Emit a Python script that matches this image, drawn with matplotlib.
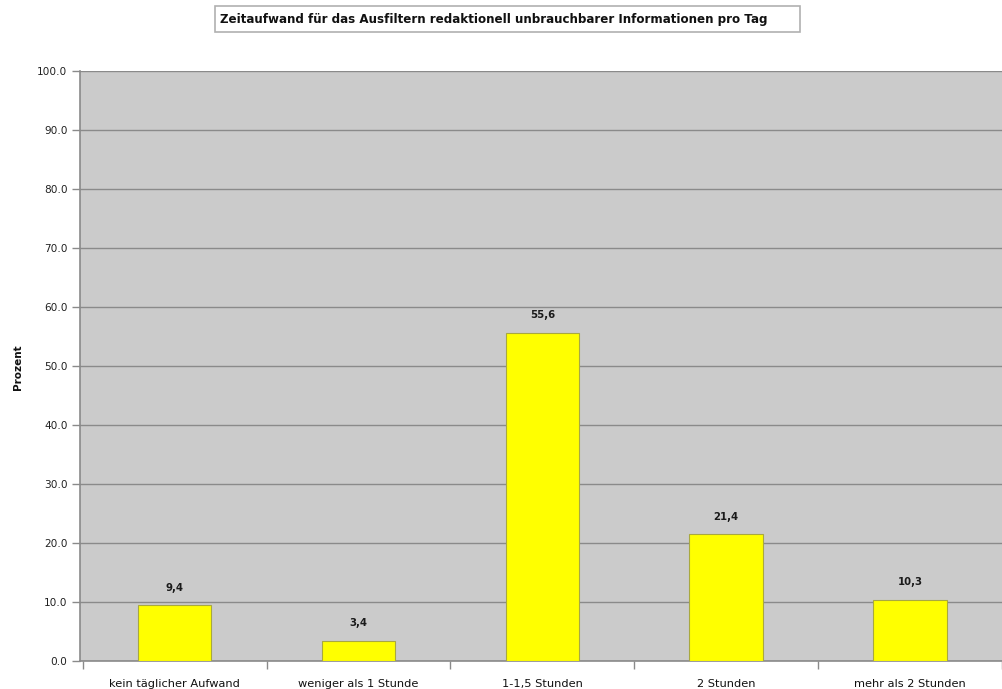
import matplotlib
matplotlib.use("Agg")
import matplotlib.pyplot as plt
from matplotlib.patches import Rectangle

categories = ["kein täglicher Aufwand", "weniger als 1 Stunde", "1-1,5 Stunden",
              "2 Stunden", "mehr als 2 Stunden"]
values = [9.4, 3.4, 55.6, 21.4, 10.3]
yticks = [0, 10, 20, 30, 40, 50, 60, 70, 80, 90, 100]
title = "Zeitaufwand für das Ausfiltern redaktionell unbrauchbarer Informationen pro Tag"
ylabel = "Prozent"

plt.rcParams["font.family"] = ["DejaVu Sans"]

W, H = 1002, 689
fig = plt.figure(figsize=(W / 100, H / 100), dpi=100)
left, right, top, bottom = 80, 1002, 70.7, 660.7
ax = fig.add_axes([left / W, 1 - bottom / H, (right - left) / W, (bottom - top) / H])

ax.set_facecolor("#cbcbcb")
x = list(range(len(categories)))
ax.bar(x, values, width=0.40, color="#ffff00", edgecolor="#a8a840", linewidth=0.8, zorder=3)

for xi, v in zip(x, values):
    ax.annotate(f"{v:.1f}".replace(".", ","), (xi, v), xytext=(0, 9), textcoords="offset points",
                ha="center", va="bottom", fontsize=7.3, fontweight="bold", color="#1a1a1a")

ax.set_xlim(-0.515, 4.445)
ax.set_ylim(0, 100)
ax.set_yticks(yticks)
ax.set_yticklabels([f"{t:.1f}" for t in yticks], fontsize=7.6, color="#222222")
ax.yaxis.grid(True, color="#8a8a8a", linewidth=1.0, zorder=1)
ax.tick_params(axis="y", length=6, color="#8a8a8a", width=1.0, pad=3)

# category labels centred under bars, tick marks between categories
ax.set_xticks([i + 0.5 for i in range(-1, len(categories))])
ax.set_xticklabels([])
ax.tick_params(axis="x", length=6, color="#8a8a8a", width=1.0)
for xi, c in zip(x, categories):
    ax.text(xi, -4.4, c, ha="center", va="baseline", fontsize=8.2, color="#111111")

for s in ["top", "right"]:
    ax.spines[s].set_visible(False)
ax.spines["left"].set_color("#8a8a8a")
ax.spines["bottom"].set_color("#8a8a8a")
ax.spines["left"].set_linewidth(1.2)
ax.spines["bottom"].set_linewidth(1.2)

fig.text(18 / W, 1 - 367 / H, ylabel, rotation=90, ha="center", va="center",
         fontsize=7.5, fontweight="bold", color="#111111")

# boxed title
fig.patches.append(Rectangle((215 / W, 1 - 32 / H), (800 - 215) / W, 26 / H,
                             transform=fig.transFigure, facecolor="white",
                             edgecolor="#b0b0b0", linewidth=1.2))
fig.text(220 / W, 1 - 19 / H, title, ha="left", va="center", fontsize=8.6,
         fontweight="bold", color="#111111")

fig.savefig("out.png", dpi=100)
